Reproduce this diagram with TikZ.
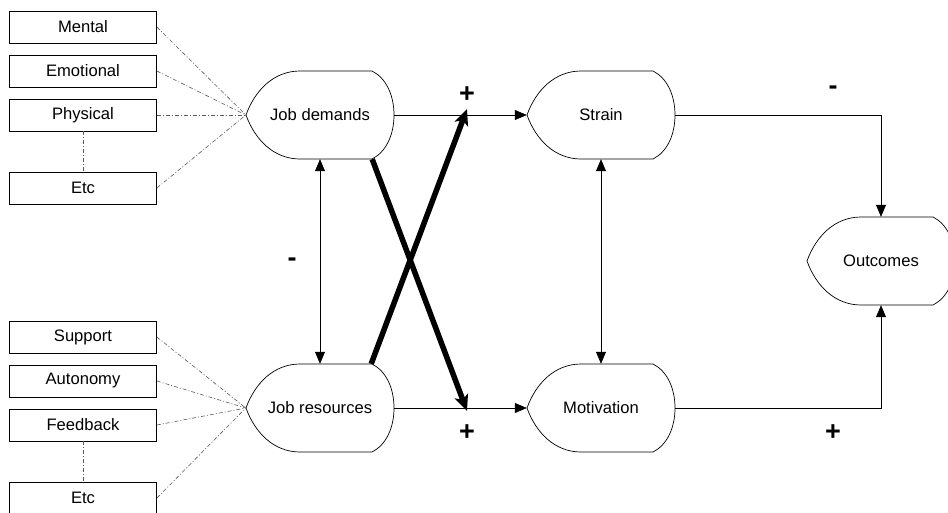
\documentclass[tikz,border=0pt]{standalone}
\usepackage{fontspec}
\setmainfont{Liberation Sans}
\usetikzlibrary{arrows.meta,calc}
\begin{document}
\begin{tikzpicture}[x=1pt,y=-1pt,
  factor/.style={draw,line width=0.7pt,minimum width=147pt,minimum height=32pt,inner sep=0pt,font=\fontsize{16.6}{19}\selectfont},
  state/.style={minimum width=148pt,minimum height=88pt,inner sep=0pt,font=\fontsize{16.6}{19}\selectfont},
  feed/.style={gray!70!black,line width=0.6pt,dash pattern=on 4pt off 2pt on 1pt off 2pt},
  tip/.tip={Triangle[length=12pt,width=10pt]},
  link/.style={line width=0.7pt,-tip},
  both/.style={line width=0.7pt,tip-tip},
  cross/.style={line width=5.5pt,-{Stealth[length=16pt,width=14pt,inset=4pt]}},
  sign/.style={font=\fontsize{27}{29}\selectfont\bfseries}]
\clip (0,0) rectangle (948,512);

% display-shaped outline around a state node
\newcommand\dispshape[1]{%
  \draw[line width=0.7pt,shift={(#1.center)}] (-74,0) .. controls (-65,-25) and (-46,-44) .. (-20,-44) -- (52,-44)
    .. controls (66,-37) and (74,-20) .. (74,0) .. controls (74,20) and (66,37) .. (52,44) -- (-20,44)
    .. controls (-46,44) and (-65,25) .. (-74,0) -- cycle;}

% states
\node[state] (jd) at (320,115) {Job demands};
\node[state] (jr) at (320,408) {Job resources};
\node[state] (st) at (601,115) {Strain};
\node[state] (mo) at (601,408) {Motivation};
\node[state] (oc) at (881,261) {Outcomes};
\foreach \n in {jd,jr,st,mo,oc} {\dispshape{\n}}

% demand factors
\node[factor] (mental) at (83,27) {Mental};
\node[factor] (emot) at (83,71) {Emotional};
\node[factor] (phys) at (83,115) {Physical};
\node[factor] (etc1) at (83,188) {Etc};
% resource factors
\node[factor] (supp) at (83,337) {Support};
\node[factor] (auto) at (83,381) {Autonomy};
\node[factor] (fb) at (83,425) {Feedback};
\node[factor] (etc2) at (83,498) {Etc};

\foreach \b in {mental,emot,phys,etc1} {\draw[feed] (\b.east) -- (jd.west);}
\foreach \b in {supp,auto,fb,etc2} {\draw[feed] (\b.east) -- (jr.west);}
\draw[feed] (phys.south) -- (etc1.north);
\draw[feed] (fb.south) -- (etc2.north);

% main paths
\draw[link] (jd.east) -- (st.west);
\draw[link] (jr.east) -- (mo.west);
\draw[both] (jd.south) -- (jr.north);
\draw[both] (st.south) -- (mo.north);
\draw[link] (st.east) -| (oc.north);
\draw[link] (mo.east) -| (oc.south);

% cross effects
\coordinate (jdc) at ($(jd.south east)+(-22,0)$);
\coordinate (jrc) at ($(jr.north east)+(-23,0)$);
\coordinate (tipS) at (467,109);
\coordinate (tipM) at (467,411);
\draw[cross] (jdc) -- (tipM);
\draw[cross] (jrc) -- (tipS);

% signs
\node[sign] (p1) at (467,95) {+};
\node[sign] (m1) at (833,90) {-};
\node[sign] (m2) at (292,262) {-};
\node[sign] (p2) at (467,433) {+};
\node[sign] (p3) at (833,433) {+};
\end{tikzpicture}
\end{document}
